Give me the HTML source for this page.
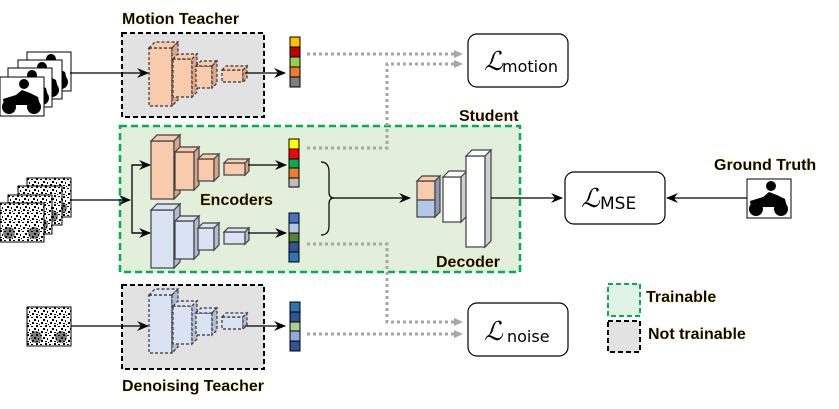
<!DOCTYPE html>
<html><head><meta charset="utf-8"><style>
body{margin:0;background:#fff}
svg{display:block;font-family:"Liberation Sans",sans-serif}
.t{font-weight:bold;font-size:16px;fill:#000;stroke:#e8a000;stroke-width:0.2px}
.cf{fill:var(--f);stroke:var(--k);stroke-width:1.2;stroke-dasharray:var(--da)}
.cs{fill:var(--s);stroke:var(--k);stroke-width:1.2;stroke-dasharray:var(--da)}
.dot{stroke:#a6a6a6;stroke-width:3;stroke-dasharray:3 3;fill:none}
</style></head><body>
<svg width="839" height="409" viewBox="0 0 839 409" xmlns="http://www.w3.org/2000/svg">
<defs>
<marker id="ah" markerWidth="12" markerHeight="10" refX="11" refY="5" orient="auto" markerUnits="userSpaceOnUse"><path d="M0,0 L12,5 L0,10 L4,5z" fill="#000"/></marker>
<marker id="gh" markerWidth="9" markerHeight="8" refX="8" refY="4" orient="auto" markerUnits="userSpaceOnUse"><path d="M0,0 L9,4 L0,8z" fill="#a6a6a6"/></marker>
<pattern id="noise" width="9" height="9" patternUnits="userSpaceOnUse"><rect width="9" height="9" fill="#fff"/><rect x="0" y="0" width="2" height="2"/><rect x="4" y="1" width="2" height="1"/><rect x="7" y="3" width="2" height="2"/><rect x="2" y="4" width="1" height="2"/><rect x="5" y="6" width="2" height="2"/><rect x="0" y="7" width="2" height="1"/><rect x="3" y="8" width="1" height="1"/></pattern>
<g id="cubes">
<rect class="cf" x="149" y="48" width="23" height="58"/><polygon class="cf" points="149,48 155,42 178,42 172,48"/><polygon class="cs" points="172,48 178,42 178,100 172,106"/>
<rect class="cf" x="173" y="59" width="19" height="38"/><polygon class="cf" points="173,59 178,54 197,54 192,59"/><polygon class="cs" points="192,59 197,54 197,92 192,97"/>
<rect class="cf" x="196" y="66" width="16" height="22"/><polygon class="cf" points="196,66 201,61 217,61 212,66"/><polygon class="cs" points="212,66 217,61 217,83 212,88"/>
<rect class="cf" x="222" y="70" width="21" height="12"/><polygon class="cf" points="222,70 226,66 247,66 243,70"/><polygon class="cs" points="243,70 247,66 247,78 243,82"/>
</g>
<g id="bike"><rect x="0" y="0" width="44" height="39" fill="#fff" stroke="#000"/><circle cx="9" cy="30" r="7"/><circle cx="34" cy="30" r="7"/><circle cx="24" cy="7" r="5"/><path d="M3,22 L16,18 L22,13 L30,16 L38,20 L40,28 L4,28z"/></g>
<g id="nimg"><rect x="0" y="0" width="44" height="39" fill="url(#noise)" stroke="#000"/><circle cx="9" cy="30" r="6" fill="#000" opacity="0.5"/><circle cx="34" cy="30" r="6" fill="#000" opacity="0.5"/></g>
</defs>

<text class="t" x="122" y="24">Motion Teacher</text>
<rect x="122" y="33" width="142" height="84" fill="#e2e2e2" stroke="#000" stroke-width="2" stroke-dasharray="5 3"/>
<g style="--f:#f8cbad;--s:#d9a58a;--k:#333;--da:3 2"><use href="#cubes"/></g>
<use href="#bike" x="27" y="52"/><use href="#bike" x="18" y="60"/><use href="#bike" x="8" y="68"/><use href="#bike" x="0" y="77"/>
<line x1="70" y1="73" x2="148" y2="73" stroke="#000" stroke-width="1.3" marker-end="url(#ah)"/>
<line x1="245" y1="73" x2="285" y2="73" stroke="#000" stroke-width="1.3" marker-end="url(#ah)"/>
<g stroke="#000" stroke-width="1"><rect x="290" y="37" width="10" height="10" fill="#ffc000"/><rect x="290" y="47" width="10" height="10" fill="#c00000"/><rect x="290" y="57" width="10" height="10" fill="#92d050"/><rect x="290" y="67" width="10" height="10" fill="#ed7d31"/><rect x="290" y="77" width="10" height="10" fill="#7f7f7f"/></g>

<rect x="120" y="126" width="400" height="146" fill="#e2efda" stroke="#00b050" stroke-width="2.5" stroke-dasharray="7 4"/>
<text class="t" x="459" y="121">Student</text>
<use href="#nimg" x="27" y="178"/><use href="#nimg" x="18" y="186"/><use href="#nimg" x="8" y="195"/><use href="#nimg" x="0" y="203"/>
<line x1="70" y1="200" x2="130" y2="200" stroke="#000" stroke-width="1.3" marker-end="url(#ah)"/>
<polyline points="150,165 132,165 132,233 150,233" fill="none" stroke="#000" stroke-width="1.3"/>
<line x1="132" y1="165" x2="150" y2="165" stroke="#000" stroke-width="1.3" marker-end="url(#ah)"/>
<line x1="132" y1="233" x2="150" y2="233" stroke="#000" stroke-width="1.3" marker-end="url(#ah)"/>
<g transform="translate(2,93)" style="--f:#f8cbad;--s:#d9a58a;--k:#404040;--da:none"><use href="#cubes"/></g>
<g transform="translate(2,162)" style="--f:#dae3f3;--s:#b0bcd2;--k:#404040;--da:none"><use href="#cubes"/></g>
<line x1="248" y1="165" x2="286" y2="165" stroke="#000" stroke-width="1.3" marker-end="url(#ah)"/>
<line x1="248" y1="233" x2="286" y2="233" stroke="#000" stroke-width="1.3" marker-end="url(#ah)"/>
<g stroke="#000" stroke-width="1"><rect x="289" y="139" width="10" height="10" fill="#ffff00"/><rect x="289" y="149" width="10" height="10" fill="#ff0000"/><rect x="289" y="159" width="10" height="9" fill="#00b050"/><rect x="289" y="168" width="10" height="10" fill="#ed7d31"/><rect x="289" y="178" width="10" height="9" fill="#bfbfbf"/>
<rect x="289" y="213" width="10" height="10" fill="#4472c4"/><rect x="289" y="223" width="10" height="10" fill="#b4c7e7"/><rect x="289" y="233" width="10" height="9" fill="#548235"/><rect x="289" y="242" width="10" height="10" fill="#2f5597"/><rect x="289" y="252" width="10" height="10" fill="#2e75b6"/></g>
<text class="t" x="200" y="205">Encoders</text>
<path d="M321,162 Q329,162 329,172 L329,192 Q329,198 334,198 Q329,198 329,204 L329,226 Q329,235 321,235" fill="none" stroke="#000" stroke-width="1.2"/>
<line x1="334" y1="198" x2="410" y2="198" stroke="#000" stroke-width="1.3" marker-end="url(#ah)"/>
<g stroke="#404040" stroke-width="1.2">
<rect x="417" y="181" width="18" height="19" fill="#f8cbad"/><rect x="417" y="200" width="18" height="17" fill="#b4c7e7"/>
<polygon points="417,181 422,176 440,176 435,181" fill="#f8cbad"/><polygon points="435,181 440,176 440,212 435,217" fill="#8a9ab8"/>
<rect x="443" y="177" width="18" height="45" fill="#fff"/><polygon points="443,177 449,171 467,171 461,177" fill="#fff"/><polygon points="461,177 467,171 467,216 461,222" fill="#d0d0d0"/>
<rect x="466" y="156" width="19" height="91" fill="#fff"/><polygon points="466,156 472,150 491,150 485,156" fill="#fff"/><polygon points="485,156 491,150 491,241 485,247" fill="#d0d0d0"/>
</g>
<text class="t" x="436" y="267">Decoder</text>
<line x1="491" y1="198" x2="562" y2="198" stroke="#000" stroke-width="1.3" marker-end="url(#ah)"/>

<rect x="122" y="285" width="142" height="84" fill="#e2e2e2" stroke="#000" stroke-width="2" stroke-dasharray="5 3"/>
<g transform="translate(0,247)" style="--f:#dae3f3;--s:#b0bcd2;--k:#333;--da:3 2"><use href="#cubes"/></g>
<text class="t" x="122" y="391">Denoising Teacher</text>
<use href="#nimg" x="27" y="307"/>
<line x1="71" y1="326" x2="148" y2="326" stroke="#000" stroke-width="1.3" marker-end="url(#ah)"/>
<line x1="245" y1="326" x2="285" y2="326" stroke="#000" stroke-width="1.3" marker-end="url(#ah)"/>
<g stroke="#000" stroke-width="1"><rect x="290" y="302" width="10" height="10" fill="#2e75b6"/><rect x="290" y="312" width="10" height="10" fill="#2f5597"/><rect x="290" y="322" width="10" height="9" fill="#a9d18e"/><rect x="290" y="331" width="10" height="10" fill="#8faadc"/><rect x="290" y="341" width="10" height="10" fill="#2f5597"/></g>

<polyline class="dot" points="307,54 462,54" marker-end="url(#gh)"/>
<polyline class="dot" points="307,148 387,148 387,64 462,64" marker-end="url(#gh)"/>
<polyline class="dot" points="307,244 387,244 387,322 462,322" marker-end="url(#gh)"/>
<polyline class="dot" points="307,334 462,334" marker-end="url(#gh)"/>

<g fill="#fff" stroke="#000" stroke-width="1.2">
<rect x="468" y="34" width="100" height="53" rx="9"/><rect x="468" y="303" width="100" height="53" rx="9"/><rect x="565" y="172" width="100" height="52" rx="9"/></g>
<g font-family="Liberation Serif,serif" font-style="italic" font-size="26" fill="#000">
<text x="484" y="70">ℒ</text><text x="484" y="340">ℒ</text><text x="581" y="207">ℒ</text></g>
<g font-family="DejaVu Sans,sans-serif" font-size="16" fill="#000">
<text x="502" y="72">motion</text><text x="507" y="342">noise</text><text x="600" y="209" font-size="17">MSE</text></g>
<line x1="748" y1="198" x2="667" y2="198" stroke="#000" stroke-width="1.3" marker-end="url(#ah)"/>
<text class="t" x="714" y="170">Ground Truth</text>
<use href="#bike" x="747" y="179"/>

<rect x="608" y="284" width="32" height="32" fill="#e0f3e6" stroke="#00b050" stroke-width="2" stroke-dasharray="5 3"/>
<rect x="608" y="321" width="32" height="31" fill="#e2e2e2" stroke="#000" stroke-width="2" stroke-dasharray="5 3"/>
<text class="t" x="646" y="302">Trainable</text>
<text class="t" x="648" y="339">Not trainable</text>
</svg>
</body></html>
